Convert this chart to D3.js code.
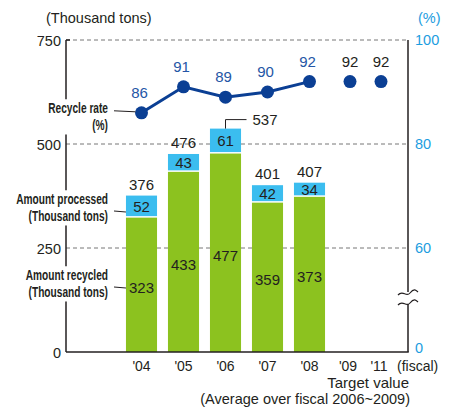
<!DOCTYPE html>
<html>
<head>
<meta charset="utf-8">
<script src="https://cdn.jsdelivr.net/npm/d3@7"></script>
<style>
  body { margin: 0; background: #fff; }
  svg { display: block; font-family: "Liberation Sans", Arial, sans-serif; }
  .note { font-family: "Liberation Sans", Arial, sans-serif; font-weight: bold; font-size: 14.5px; }
</style>
</head>
<body>
<svg></svg>
<script>
let years = ["'04", "'05", "'06", "'07", "'08"]
let recycled = [323, 433, 477, 359, 373]
let processed = [376, 476, 537, 401, 407]
let diffLabels = [52, 43, 61, 42, 34]
let rate = [86, 91, 89, 90, 92]
let targetYears = ["'09", "'11"]
let targetRate = [92, 92]
let leftTicks = [0, 250, 500, 750]
let rightTicks = [0, 60, 80, 100]

let width = 456
let height = 407
let plotL = 66, plotR = 408, plotT = 40, plotB = 352

let green = "#8cc21f"
let cyan = "#3bbdef"
let navy = "#0b3f94"
let rateBlue = "#2456a6"
let axisBlue = "#1c9de0"
let ink = "#231f20"

let svg = d3.select('svg').attr("width", width).attr("height", height)
svg.append("rect").attr("width", width).attr("height", height).attr("fill", "#fff")

let yScale = d3.scaleLinear().domain([0, 750]).range([plotB, plotT])
// right axis is broken between 0 and 60
let yRate = d3.scaleLinear().domain([0, 60, 100]).range([plotB, 248, plotT])
let xScale = d3.scaleBand().domain(years).range([120.5, 330.5]).paddingInner(0.26).paddingOuter(0.13)
let xTarget = d3.scalePoint().domain(targetYears).range([350, 381])
let xc = d => xScale(d) + xScale.bandwidth() / 2

// grid lines
svg.append("g").selectAll("line")
  .data(leftTicks.filter(d => d > 0))
  .enter().append("line")
  .attr("x1", plotL).attr("x2", plotR)
  .attr("y1", d => yScale(d)).attr("y2", d => yScale(d))
  .attr("stroke", "#777").attr("stroke-width", 1).attr("stroke-dasharray", "4,3")

// bars
let bars = svg.append("g")
bars.selectAll(".green").data(years).enter().append("rect")
  .attr("x", d => xScale(d)).attr("width", xScale.bandwidth())
  .attr("y", (d, i) => yScale(recycled[i]))
  .attr("height", (d, i) => plotB - yScale(recycled[i]))
  .attr("fill", green)
bars.selectAll(".cyan").data(years).enter().append("rect")
  .attr("x", d => xScale(d)).attr("width", xScale.bandwidth())
  .attr("y", (d, i) => yScale(processed[i]))
  .attr("height", (d, i) => yScale(recycled[i]) - yScale(processed[i]) - 1.5)
  .attr("fill", cyan)

// values inside bars
bars.selectAll(".gl").data(years).enter().append("text")
  .attr("x", d => xc(d))
  .attr("y", (d, i) => (yScale(recycled[i]) + plotB) / 2 + 8)
  .attr("text-anchor", "middle").attr("font-size", 15).attr("fill", ink)
  .text((d, i) => recycled[i])
bars.selectAll(".cl").data(years).enter().append("text")
  .attr("x", d => xc(d))
  .attr("y", (d, i) => (yScale(recycled[i]) + yScale(processed[i])) / 2 + 5)
  .attr("text-anchor", "middle").attr("font-size", 15).attr("fill", ink)
  .text((d, i) => diffLabels[i])

// totals above bars
years.forEach((d, i) => {
  let yt = yScale(processed[i])
  if (d === "'06") {
    svg.append("path")
      .attr("d", `M${xc(d)},${yt}V${yt - 9}H${xc(d) + 21}`)
      .attr("fill", "none").attr("stroke", ink).attr("stroke-width", 1)
    svg.append("text").attr("x", xc(d) + 27).attr("y", yt - 4)
      .attr("font-size", 15).attr("fill", ink).text(processed[i])
  } else {
    svg.append("text").attr("x", xc(d)).attr("y", yt - 6)
      .attr("text-anchor", "middle").attr("font-size", 15).attr("fill", ink).text(processed[i])
  }
})

// axes
svg.append("line").attr("x1", plotL).attr("x2", plotL).attr("y1", plotT).attr("y2", plotB).attr("stroke", ink).attr("stroke-width", 1.5)
svg.append("line").attr("x1", plotR).attr("x2", plotR).attr("y1", plotT).attr("y2", plotB).attr("stroke", ink).attr("stroke-width", 1.5)
svg.append("line").attr("x1", plotL).attr("x2", plotR + 0.75).attr("y1", plotB).attr("y2", plotB).attr("stroke", ink).attr("stroke-width", 1.5)
svg.append("line").attr("x1", plotL).attr("x2", plotL + 4).attr("y1", plotT).attr("y2", plotT).attr("stroke", ink).attr("stroke-width", 1.5)

let yAxis = d3.axisLeft(yScale).tickValues(leftTicks).tickSize(0).tickPadding(5)
let gl = svg.append("g").attr("transform", `translate(${plotL},0)`).call(yAxis)
gl.select(".domain").remove()
gl.selectAll("text").attr("font-size", 14.5).attr("fill", ink).attr("font-family", "Liberation Sans, Arial, sans-serif").attr("dy", "0.35em")

let rAxis = d3.axisRight(yRate).tickValues(rightTicks).tickSize(0).tickPadding(7)
let gr = svg.append("g").attr("transform", `translate(${plotR},0)`).call(rAxis)
gr.select(".domain").remove()
gr.selectAll("text").attr("font-size", 14.5).attr("fill", axisBlue).attr("font-family", "Liberation Sans, Arial, sans-serif")
  .attr("dy", d => d === 0 ? "0.05em" : "0.3em")

// axis break on the right
svg.append("rect").attr("x", plotR - 3).attr("y", 292).attr("width", 6).attr("height", 12).attr("fill", "#fff")
;[293, 303].forEach(y => {
  svg.append("path")
    .attr("d", `M${plotR - 10},${y + 2}C${plotR - 5},${y - 4} ${plotR - 2},${y + 5} ${plotR + 2},${y}S${plotR + 8},${y - 3} ${plotR + 10},${y - 1}`)
    .attr("fill", "none").attr("stroke", ink).attr("stroke-width", 1.2)
})

// axis titles
svg.append("text").attr("x", 46).attr("y", 23).attr("font-size", 14.5).attr("fill", ink).text("(Thousand tons)")
svg.append("text").attr("x", 418).attr("y", 23).attr("font-size", 14.5).attr("fill", axisBlue).text("(%)")

// x labels
svg.append("g").selectAll("text").data(years).enter().append("text")
  .attr("x", d => xc(d)).attr("y", 371).attr("text-anchor", "middle")
  .attr("font-size", 14).attr("fill", ink).text(d => d)
svg.append("g").selectAll("text").data(targetYears).enter().append("text")
  .attr("x", d => xTarget(d) - 2).attr("y", 371).attr("text-anchor", "middle")
  .attr("font-size", 14).attr("fill", ink).text(d => d)
svg.append("text").attr("x", 397).attr("y", 371).attr("font-size", 14).attr("fill", ink).text("(fiscal)")
svg.append("text").attr("x", 409).attr("y", 387.5).attr("text-anchor", "end").attr("font-size", 15).attr("fill", ink).text("Target value")
svg.append("text").attr("x", 410).attr("y", 404).attr("text-anchor", "end").attr("font-size", 14.5).attr("fill", ink).text("(Average over fiscal 2006~2009)")

// recycle rate line
let line = d3.line().x(d => xc(d)).y((d, i) => yRate(rate[i]))
svg.append("path").datum(years).attr("d", line)
  .attr("fill", "none").attr("stroke", navy).attr("stroke-width", 3)
svg.append("g").selectAll("circle").data(years).enter().append("circle")
  .attr("cx", d => xc(d)).attr("cy", (d, i) => yRate(rate[i])).attr("r", 6.5).attr("fill", navy)
svg.append("g").selectAll("text").data(years).enter().append("text")
  .attr("x", d => xc(d) - 2).attr("y", (d, i) => yRate(rate[i]) - 15)
  .attr("text-anchor", "middle").attr("font-size", 15).attr("fill", rateBlue).text((d, i) => rate[i])
svg.append("g").selectAll("circle").data(targetYears).enter().append("circle")
  .attr("cx", d => xTarget(d)).attr("cy", (d, i) => yRate(targetRate[i])).attr("r", 6.5).attr("fill", navy)
svg.append("g").selectAll("text").data(targetYears).enter().append("text")
  .attr("x", d => xTarget(d)).attr("y", (d, i) => yRate(targetRate[i]) - 15)
  .attr("text-anchor", "middle").attr("font-size", 15).attr("fill", ink).text((d, i) => targetRate[i])

// side notes with leader lines (condensed bold text)
let squeeze = 0.7
let notes = [
  { lines: ["Recycle rate", "(%)"], y: 113, ty: yRate(rate[0]) - 1, tx: xc(years[0]) - 6 },
  { lines: ["Amount processed", "(Thousand tons)"], y: 204, ty: 212, tx: xScale(years[0]) },
  { lines: ["Amount recycled", "(Thousand tons)"], y: 280, ty: 288, tx: xScale(years[0]) }
]
notes.forEach(n => {
  let g = svg.append("g").attr("class", "note")
  let t = g.append("text").attr("text-anchor", "end").attr("fill", ink)
    .attr("transform", `translate(108,0) scale(${squeeze},1) translate(-108,0)`)
  n.lines.forEach((s, k) => {
    t.append("tspan").attr("x", 108).attr("y", n.y + k * 17).text(s)
  })
  let bb = t.node().getBBox()
  let w = bb.width * squeeze
  g.insert("rect", "text").attr("x", 108 - w - 2).attr("y", bb.y - 1).attr("width", w + 4).attr("height", bb.height + 2).attr("fill", "#fff")
  svg.append("line").attr("x1", 114).attr("x2", n.tx).attr("y1", n.ty - 1).attr("y2", n.ty)
    .attr("stroke", ink).attr("stroke-width", 1)
})
</script>
</body>
</html>
